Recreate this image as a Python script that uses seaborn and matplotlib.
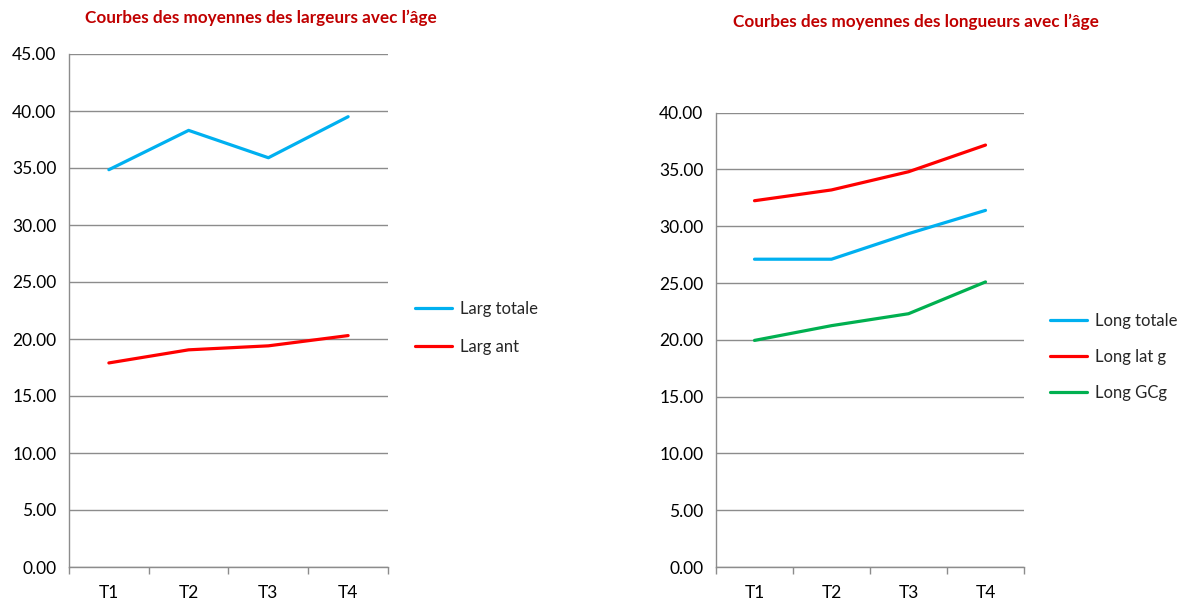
import matplotlib
matplotlib.use("Agg")
import matplotlib.pyplot as plt
import seaborn as sns
import pandas as pd
from matplotlib.ticker import MultipleLocator, FormatStrFormatter, FixedLocator

sns.set_theme(style="white")
plt.rcParams['font.family'] = ['Lato', 'DejaVu Sans']

categories = ["T1", "T2", "T3", "T4"]
larg_totale = [34.85, 38.3, 35.9, 39.5]
larg_ant = [17.9, 19.05, 19.4, 20.3]
long_totale = [27.1, 27.1, 29.35, 31.4]
long_lat_g = [32.25, 33.2, 34.8, 37.15]
long_gcg = [19.95, 21.25, 22.3, 25.1]

left_series = {"Larg totale": larg_totale, "Larg ant": larg_ant}
right_series = {"Long totale": long_totale, "Long lat g": long_lat_g, "Long GCg": long_gcg}
colors = {"Larg totale": "#00B0F0", "Larg ant": "#FF0000",
          "Long totale": "#00B0F0", "Long lat g": "#FF0000", "Long GCg": "#00B050"}

def to_long(series):
    rows = []
    for name, vals in series.items():
        for c, v in zip(categories, vals):
            rows.append({"cat": c, "value": v, "serie": name})
    return pd.DataFrame(rows)

fig = plt.figure(figsize=(11.77, 6.04), dpi=100)
W, H = 1177, 604
axL = fig.add_axes([69 / W, (H - 567) / H, (388 - 69) / W, (567 - 54) / H])
axR = fig.add_axes([716 / W, (H - 567) / H, (1024 - 716) / W, (567 - 112.7) / H])

grid_c = "#8C8C8C"

def style(ax, df, ymax, legend_xy, legend_spacing):
    sns.lineplot(data=df, x="cat", y="value", hue="serie", palette=colors,
                 sort=False, linewidth=2.3, ax=ax, legend=True)
    ax.set_xlim(-0.5, 3.5)
    ax.set_ylim(0, ymax)
    ax.yaxis.set_major_locator(MultipleLocator(5))
    ax.yaxis.set_major_formatter(FormatStrFormatter("%.2f"))
    ax.grid(axis="y", color=grid_c, linewidth=1.0)
    ax.set_axisbelow(True)
    for s in ["top", "right"]:
        ax.spines[s].set_visible(False)
    for s in ["left", "bottom"]:
        ax.spines[s].set_color(grid_c)
        ax.spines[s].set_linewidth(1.0)
    ax.set_xlabel("")
    ax.set_ylabel("")
    ax.tick_params(axis="y", length=0, labelsize=12.5, colors="black", pad=9)
    ax.set_xticks(range(len(categories)))
    ax.set_xticklabels(categories)
    ax.xaxis.set_minor_locator(FixedLocator([-0.5, 0.5, 1.5, 2.5, 3.5]))
    ax.tick_params(axis="x", which="major", length=0, labelsize=12.5, colors="black", pad=13)
    ax.tick_params(axis="x", which="minor", length=5, color=grid_c, width=1.0, direction="out")
    ax.tick_params(axis="x", which="minor", bottom=True)
    leg = ax.legend(loc="upper left", bbox_to_anchor=legend_xy, bbox_transform=fig.transFigure,
                    frameon=False, fontsize=12, handlelength=2.2, handletextpad=0.5,
                    labelspacing=legend_spacing, borderpad=0, borderaxespad=0)
    for line in leg.get_lines():
        line.set_linewidth(2.3)

style(axL, to_long(left_series), 45, (415 / W, 1 - 301 / H), 1.3)
style(axR, to_long(right_series), 40, (1050 / W, 1 - 313 / H), 1.2)

title_kw = dict(color="#C00000", fontweight="bold", fontsize=12.3, ha="center", va="center")
fig.text(261 / W, 1 - 18 / H, "Courbes des moyennes des largeurs avec l\u2019\u00e2ge", **title_kw)
fig.text(916 / W, 1 - 22 / H, "Courbes des moyennes des longueurs avec l\u2019\u00e2ge", **title_kw)

fig.savefig("out.png", dpi=100)
